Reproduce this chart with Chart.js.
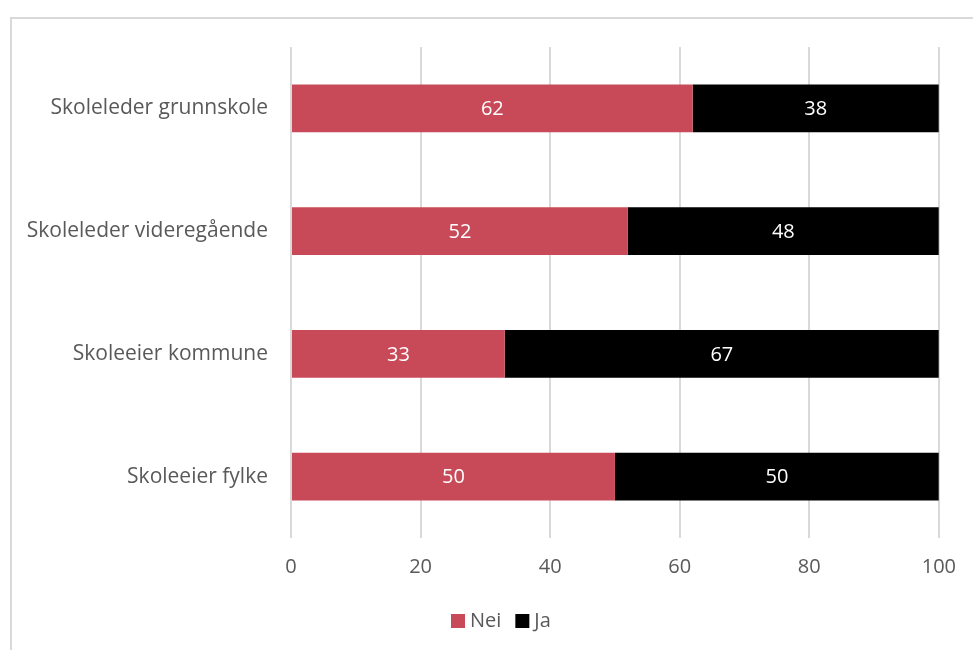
<!DOCTYPE html>
<html><head><meta charset="utf-8">
<script src="https://cdn.jsdelivr.net/npm/chart.js@4/dist/chart.umd.min.js"></script>
<style>
html,body{margin:0;padding:0;background:#fff;overflow:hidden}
#frame{position:absolute;left:10px;top:17px;width:1000px;height:700px;border:2px solid #d9d9d9;box-sizing:border-box}
#wrap{position:absolute;left:0;top:0;width:973px;height:650px}
</style></head><body>
<div id="frame"></div>
<div id="wrap"><canvas id="c" width="973" height="650"></canvas></div>
<script>
const categories = ["Skoleleder grunnskole","Skoleleder videregående","Skoleeier kommune","Skoleeier fylke"];
const neiValues = [62, 52, 33, 50];
const jaValues = [38, 48, 67, 50];
const xTicks = [0, 20, 40, 60, 80, 100];

const FONT = "'Open Sans', sans-serif";
const labelPlugin = {
  id: 'barLabels',
  afterDatasetsDraw(chart) {
    const ctx = chart.ctx;
    ctx.save();
    ctx.font = "20px " + FONT;
    ctx.fillStyle = '#ffffff';
    ctx.textAlign = 'center';
    ctx.textBaseline = 'middle';
    chart.data.datasets.forEach((ds, i) => {
      chart.getDatasetMeta(i).data.forEach((bar, j) => {
        const x = (bar.x + bar.base) / 2;
        ctx.fillText(String(ds.data[j]), x, bar.y + 1);
      });
    });
    ctx.restore();
  }
};
const legendPlugin = {
  id: 'customLegend',
  afterDraw(chart) {
    const ctx = chart.ctx;
    ctx.save();
    ctx.font = "20px " + FONT;
    ctx.textBaseline = 'middle';
    ctx.textAlign = 'left';
    const y = 621;
    let x = 451;
    chart.data.datasets.forEach((ds) => {
      ctx.fillStyle = ds.backgroundColor;
      ctx.fillRect(x, y - 7, 14, 14);
      ctx.fillStyle = '#595959';
      ctx.fillText(ds.label, x + 19, y);
      x += 19 + ctx.measureText(ds.label).width + 14;
    });
    ctx.restore();
  }
};

new Chart(document.getElementById('c'), {
  type: 'bar',
  data: {
    labels: categories,
    datasets: [
      {label: 'Nei', data: neiValues, backgroundColor: '#c84a59', barPercentage: 0.39, categoryPercentage: 1},
      {label: 'Ja', data: jaValues, backgroundColor: '#000000', barPercentage: 0.39, categoryPercentage: 1}
    ]
  },
  options: {
    indexAxis: 'y',
    responsive: false,
    animation: false,
    devicePixelRatio: 1,
    layout: {padding: {left: 12, right: 34, top: 47, bottom: 0}},
    scales: {
      x: {
        stacked: true, min: 0, max: 100,
        afterBuildTicks(axis){ axis.ticks = xTicks.map(v => ({value: v})); },
        afterFit(axis){ axis.height = 112; },
        grid: {color: '#d9d9d9', lineWidth: 2, drawTicks: false},
        border: {display: false},
        ticks: {color: '#595959', font: {family: FONT, size: 20}, padding: 17}
      },
      y: {
        stacked: true,
        afterFit(axis){ axis.width = 279; },
        grid: {display: false},
        border: {display: false},
        ticks: {color: '#595959', font: {family: FONT, size: 21}, padding: 15}
      }
    },
    plugins: {
      legend: {display: false},
      tooltip: {enabled: false}
    }
  },
  plugins: [labelPlugin, legendPlugin]
});
</script>
</body></html>
